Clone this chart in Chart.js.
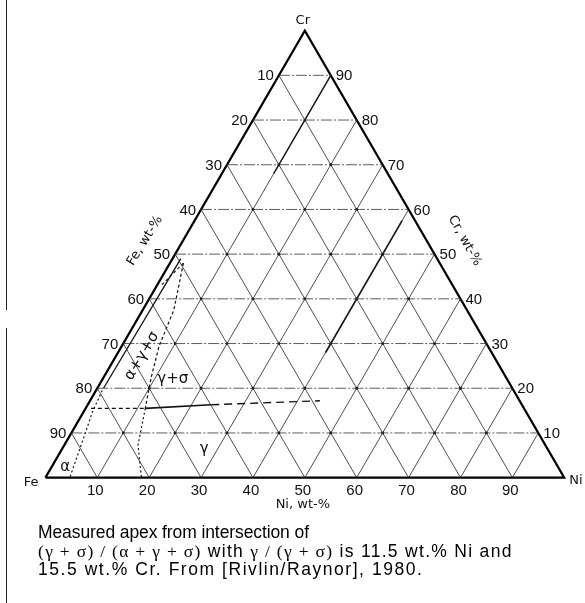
<!DOCTYPE html>
<html>
<head>
<meta charset="utf-8">
<title>Fe-Cr-Ni ternary section</title>
<script src="https://cdn.jsdelivr.net/npm/chart.js@4/dist/chart.umd.min.js"></script>
<style>
  body { margin: 0; background: #fff; }
  #wrap { position: relative; width: 585px; height: 603px; }
  canvas { position: absolute; left: 0; top: 0; }
  .rule { position: absolute; border-left: 1.5px solid #222; }
  #caption {
    position: absolute; left: 38px; top: 523px;
    font: 17.5px "Liberation Sans", Arial, sans-serif;
    line-height: 18.5px; color: #000; white-space: nowrap;
  }
  #caption .f { font-family: "Liberation Serif", serif; }
</style>
</head>
<body>
<div id="wrap">
  <canvas id="ternary" width="585" height="603"></canvas>
  <div class="rule" style="left:6px; top:0; height:310px;"></div>
  <div class="rule" style="left:6px; top:328px; height:275px;"></div>
  <div id="caption">
    <div style="letter-spacing:-0.1px">Measured apex from intersection of</div>
    <div style="letter-spacing:1.3px"><span class="f">(γ + σ) / (α + γ + σ)</span> with <span class="f">γ / (γ + σ)</span> is 11.5 wt.% Ni and</div>
    <div style="letter-spacing:1.55px">15.5 wt.% Cr. From [Rivlin/Raynor], 1980.</div>
  </div>
</div>
<script>
// grid values (wt-%)
var gridSteps = [10, 20, 30, 40, 50, 60, 70, 80, 90];
var niTicks = ['10', '20', '30', '40', '50', '60', '70', '80', '90'];
var crTicks = ['10', '20', '30', '40', '50', '60', '70', '80', '90'];
var feTicks = ['90', '80', '70', '60', '50', '40', '30', '20', '10'];

// phase boundaries as [Ni, Cr] pairs
var apex = [11.5, 15.5];
var sigmaCorner = [2.6, 48];
var alphaSigmaLine = [[1.6, 49], [1.2, 20]];
var sigmaToApex = [sigmaCorner, [6.0, 37.5], [7.2, 29.4], [9.1, 22.7], [10.0, 19.9], apex];
var sigmaToEdge = [sigmaCorner, [0.8, 43]];
var threePhaseBase = [[1.0, 15.5], apex];
var gammaSigmaSolid = [apex, [23.8, 16.3]];
var gammaSigmaDashed = [[23.8, 16.3], [44.3, 17.2]];
var gammaBoundary = [apex, [14.2, 7.3], [18.5, 0]];
var alphaBoundary = [[1.2, 19.5], [1.7, 14.8], [3.1, 8], [4.7, 0]];
var ni40Heavy = [[40, 57.5], [40, 28]];
var ni10Heavy = [[10, 90], [10, 68]];

// phase field labels: text, Ni, Cr, rotation (deg)
var fieldLabels = [
  ['α', 2.6, 2.4, 0],
  ['γ', 27.4, 6.4, 0],
  ['γ+σ', 13.5, 22.1, 0],
  ['α+γ+σ', 5.0, 27.2, -59]
];

function tern(ni, cr) { return { x: ni + cr / 2, y: cr }; }
function path(pts) { return pts.map(function (p) { return tern(p[0], p[1]); }); }

function lineSet(pts, width, dash, color) {
  return {
    data: path(pts), showLine: true, pointRadius: 0, fill: false, tension: 0,
    borderColor: color || '#111', borderWidth: width, borderDash: dash || []
  };
}

var datasets = [];

// grid: constant Cr (horizontal, dash-dot), constant Ni and constant Fe (solid)
gridSteps.forEach(function (v) {
  datasets.push(lineSet([[0, v], [100 - v, v]], 0.8, [11, 2, 2, 2], '#333'));
  datasets.push(lineSet([[v, 0], [v, 100 - v]], 0.8, [], '#222'));
  datasets.push(lineSet([[100 - v, 0], [0, 100 - v]], 0.8, [], '#222'));
});

// heavier strokes along parts of the grid
datasets.push(lineSet(ni40Heavy, 1.6));
datasets.push(lineSet(ni10Heavy, 1.4));

// phase boundaries
datasets.push(lineSet(alphaSigmaLine, 1.3));
datasets.push(lineSet(sigmaToApex, 1.2, [3, 2.5]));
datasets.push(lineSet(sigmaToEdge, 1.1, [3, 2.5]));
datasets.push(lineSet(threePhaseBase, 1.2, [4, 3]));
datasets.push(lineSet(gammaSigmaSolid, 1.6));
datasets.push(lineSet(gammaSigmaDashed, 1.4, [8, 5]));
datasets.push(lineSet(gammaBoundary, 1.2, [2, 2.5]));
datasets.push(lineSet(alphaBoundary, 1.2, [2, 2.5]));

// triangle frame
datasets.push(lineSet([[0, 0], [100, 0], [0, 100], [0, 0]], 2.2, [], '#000'));

// grid nodes
var nodes = [];
gridSteps.forEach(function (ni) {
  gridSteps.forEach(function (cr) {
    if (ni + cr <= 90) nodes.push(tern(ni, cr));
  });
});
datasets.push({ data: nodes, pointRadius: 1.4, pointBackgroundColor: '#000', pointBorderWidth: 0, showLine: false });

var textPlugin = {
  id: 'ternaryText',
  afterDatasetsDraw: function (chart) {
    var ctx = chart.ctx, sx = chart.scales.x, sy = chart.scales.y;
    function px(ni, cr) { var p = tern(ni, cr); return [sx.getPixelForValue(p.x), sy.getPixelForValue(p.y)]; }
    function text(str, x, y, align, base, font, rot) {
      ctx.save();
      ctx.translate(x, y);
      if (rot) ctx.rotate(rot * Math.PI / 180);
      ctx.font = font;
      ctx.textAlign = align;
      ctx.textBaseline = base;
      ctx.fillStyle = '#111';
      ctx.fillText(str, 0, 0);
      ctx.restore();
    }
    var tickFont = '15px "Liberation Sans", Arial, sans-serif';
    var titleFont = '13px "DejaVu Sans", sans-serif';
    gridSteps.forEach(function (v, i) {
      var b = px(v, 0);
      text(niTicks[i], b[0] - 2, b[1] + 6, 'center', 'top', tickFont);
      var r = px(100 - v, v);
      text(crTicks[i], r[0] + 5, r[1] + 1, 'left', 'middle', tickFont);
      var l = px(0, v);
      text(feTicks[i], l[0] - 5, l[1] + 1, 'right', 'middle', tickFont);
    });

    // corner and axis names
    var c = px(0, 100);
    text('Cr', c[0] - 2, c[1] - 4, 'center', 'bottom', titleFont);
    var f = px(0, 0);
    text('Fe', f[0] - 7, f[1] + 5, 'right', 'middle', titleFont);
    var n = px(100, 0);
    text('Ni', n[0] + 5, n[1] + 3, 'left', 'middle', titleFont);
    var nt = px(50, 0);
    text('Ni, wt-%', nt[0] - 2, nt[1] + 27, 'center', 'middle', titleFont);
    var ft = px(0, 53);
    text('Fe, wt-%', ft[0] - 38, ft[1], 'center', 'middle', titleFont, -58);
    var ct = px(47, 53);
    text('Cr, wt-%', ct[0] + 38, ct[1], 'center', 'middle', titleFont, 61);

    fieldLabels.forEach(function (lab) {
      var p = px(lab[1], lab[2]);
      text(lab[0], p[0], p[1], 'center', 'middle', '15px "DejaVu Sans", sans-serif', lab[3]);
    });
  }
};

new Chart(document.getElementById('ternary'), {
  type: 'scatter',
  data: { datasets: datasets },
  options: {
    responsive: false,
    animation: false,
    layout: { padding: 0 },
    plugins: { legend: { display: false }, tooltip: { enabled: false } },
    scales: {
      x: { display: false, min: -7.985, max: 103.23 },
      y: { display: false, min: -27.15, max: 105.96 }
    }
  },
  plugins: [textPlugin]
});
</script>
</body>
</html>
